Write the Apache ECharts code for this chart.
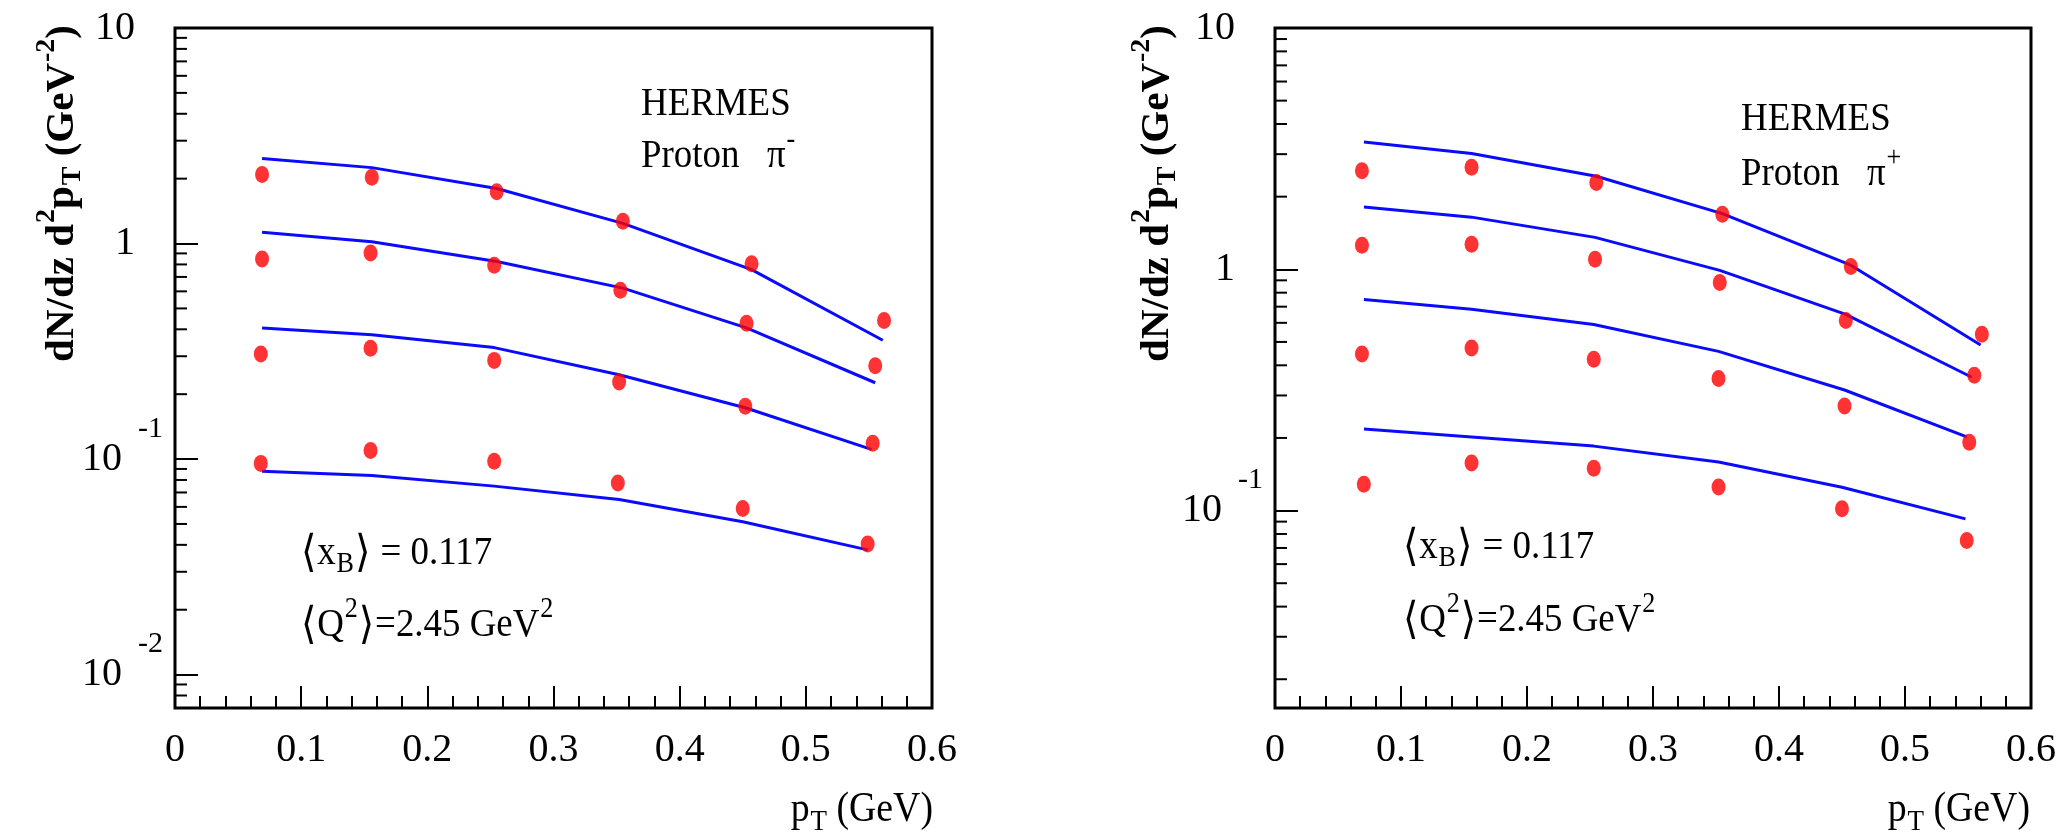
<!DOCTYPE html>
<html>
<head>
<meta charset="utf-8">
<script src="https://cdn.jsdelivr.net/npm/echarts@6/dist/echarts.min.js"></script>
<style>
  html, body { margin: 0; padding: 0; background: #fff; }
  #chart { width: 2069px; height: 835px; }
</style>
</head>
<body>
<div id="chart"></div>
<script>
// ---- HERMES proton target, <x_B> = 0.117, <Q^2> = 2.45 GeV^2 ----
// pi- : measured points (pT in GeV, dN/dz d2pT in GeV^-2), four z bins
const minusPointX = [
  [0.069, 0.156, 0.255, 0.355, 0.457, 0.562],
  [0.069, 0.155, 0.253, 0.353, 0.453, 0.555],
  [0.068, 0.155, 0.253, 0.352, 0.452, 0.553],
  [0.068, 0.155, 0.253, 0.351, 0.450, 0.549]
];
const minusPointY = [
  [2.09, 2.03, 1.74, 1.27, 0.806, 0.44],
  [0.848, 0.903, 0.793, 0.607, 0.427, 0.271],
  [0.307, 0.327, 0.287, 0.228, 0.176, 0.1185],
  [0.0955, 0.1095, 0.0977, 0.0775, 0.059, 0.0404]
];
// pi- : model curves
const minusCurveX = [
  [0.069, 0.156, 0.255, 0.355, 0.457, 0.561],
  [0.069, 0.156, 0.255, 0.355, 0.453, 0.555],
  [0.069, 0.156, 0.253, 0.352, 0.452, 0.552],
  [0.069, 0.156, 0.253, 0.352, 0.450, 0.549]
];
const minusCurveY = [
  [2.48, 2.25, 1.80, 1.24, 0.757, 0.356],
  [1.127, 1.02, 0.825, 0.621, 0.406, 0.226],
  [0.406, 0.377, 0.329, 0.246, 0.173, 0.111],
  [0.0878, 0.0839, 0.0749, 0.065, 0.0512, 0.0379]
];
// pi+ : measured points
const plusPointX = [
  [0.069, 0.156, 0.255, 0.355, 0.457, 0.561],
  [0.069, 0.156, 0.254, 0.353, 0.453, 0.555],
  [0.069, 0.156, 0.253, 0.352, 0.452, 0.551],
  [0.0705, 0.156, 0.253, 0.352, 0.450, 0.549]
];
const plusPointY = [
  [2.56, 2.65, 2.29, 1.69, 1.026, 0.538],
  [1.257, 1.27, 1.10, 0.881, 0.614, 0.364],
  [0.446, 0.472, 0.424, 0.353, 0.271, 0.192],
  [0.1285, 0.1575, 0.1497, 0.1253, 0.1018, 0.0751]
];
// pi+ : model curves
const plusCurveX = [
  [0.0706, 0.156, 0.255, 0.355, 0.457, 0.560],
  [0.0706, 0.156, 0.254, 0.353, 0.453, 0.553],
  [0.0706, 0.156, 0.253, 0.352, 0.452, 0.549],
  [0.0706, 0.156, 0.253, 0.352, 0.450, 0.548]
];
const plusCurveY = [
  [3.37, 3.02, 2.43, 1.70, 1.04, 0.486],
  [1.81, 1.645, 1.356, 0.99, 0.65, 0.357],
  [0.749, 0.683, 0.59, 0.457, 0.316, 0.202],
  [0.218, 0.202, 0.185, 0.159, 0.125, 0.0924]
];

// axis ranges and tick labels
const xTickLabels = ['0', '0.1', '0.2', '0.3', '0.4', '0.5', '0.6'];
const yRangeMinus = [0.007, 10];
const yRangePlus = [0.0152, 10];
const decadeLabels = { '1': '{p|10}', '0': '{p|1}', '-1': '{b|10}{s|-1}', '-2': '{b|10}{s|-2}' };

const SERIF = 'Liberation Serif';
const BRACKET = 'DejaVu Sans';
const RED = '#ff0000';
const BLUE = '#0a0aff';

const grids = [
  { left: 175, top: 28, width: 757, height: 680 },
  { left: 1275, top: 28, width: 756, height: 680 }
];

function pairs(xs, ys) { return xs.map((x, i) => [x, ys[i]]); }

// minor log ticks at 2..9 x 10^k inside the y range
function minorLogTicks(range) {
  const out = [];
  for (let k = -3; k <= 1; k++) {
    for (let m = 2; m <= 9; m++) {
      const v = m * Math.pow(10, k);
      if (v > range[0] && v < range[1]) out.push([0, v]);
    }
  }
  return out;
}

function xAxisFor(i) {
  return {
    type: 'value', gridIndex: i, min: 0, max: 0.6, interval: 0.1,
    axisLine: { show: false },
    splitLine: { show: false },
    axisTick: { show: true, inside: true, length: 22, lineStyle: { color: '#000', width: 2 } },
    minorTick: { show: true, splitNumber: 5, length: 12, lineStyle: { color: '#000', width: 2 } },
    axisLabel: {
      margin: 22, color: '#000', fontFamily: SERIF, fontSize: 40,
      formatter: v => xTickLabels[Math.round(v * 10)] ?? ''
    }
  };
}

function yAxisFor(i, range) {
  return {
    type: 'log', logBase: 10, gridIndex: i, min: range[0], max: range[1],
    axisLine: { show: false },
    splitLine: { show: false },
    axisTick: { show: true, inside: true, length: 23, lineStyle: { color: '#000', width: 2 } },
    axisLabel: {
      margin: 12, color: '#000', fontFamily: SERIF, fontSize: 40,
      formatter: v => {
        const e = Math.log10(v);
        const r = Math.round(e);
        if (Math.abs(e - r) > 1e-6) return '';
        return decadeLabels[String(r)] ?? '';
      },
      rich: {
        p: { fontFamily: SERIF, fontSize: 40, color: '#000', padding: [0, 28, 0, 0] },
        b: { fontFamily: SERIF, fontSize: 40, color: '#000' },
        s: { fontFamily: SERIF, fontSize: 30, color: '#000', padding: [0, 0, 60, 16] }
      }
    }
  };
}

function panelSeries(i, px, py, cx, cy, range) {
  const list = [];
  list.push({
    type: 'custom', xAxisIndex: i, yAxisIndex: i, silent: true, z: 1,
    data: minorLogTicks(range),
    renderItem: (params, api) => {
      const p = api.coord([0, api.value(1)]);
      return {
        type: 'line',
        shape: { x1: p[0], y1: p[1], x2: p[0] + 12, y2: p[1] },
        style: { stroke: '#000', lineWidth: 2 }
      };
    }
  });
  cx.forEach((xs, k) => {
    list.push({
      type: 'line', xAxisIndex: i, yAxisIndex: i, data: pairs(xs, cy[k]),
      symbol: 'none', smooth: false, z: 3, silent: true,
      lineStyle: { color: BLUE, width: 3 }
    });
  });
  px.forEach((xs, k) => {
    list.push({
      type: 'scatter', xAxisIndex: i, yAxisIndex: i, data: pairs(xs, py[k]),
      symbol: 'circle', symbolSize: [14, 17], z: 4, silent: true,
      itemStyle: { color: RED }
    });
  });
  return list;
}

const textRich = {
  t: { fontFamily: SERIF, fontSize: 41, fill: '#000' },
  br: { fontFamily: BRACKET, fontSize: 44, fill: '#000', padding: [4, 1, 0, 1] },
  sp: { fontFamily: SERIF, fontSize: 29, fill: '#000', padding: [0, 0, 32, 1] },
  sb: { fontFamily: SERIF, fontSize: 29, fill: '#000', padding: [22, 0, 0, 1] }
};
const titleRich = {
  t: { fontFamily: SERIF, fontSize: 41, fontWeight: 'bold', fill: '#000' },
  sp: { fontFamily: SERIF, fontSize: 28, fontWeight: 'bold', fill: '#000', padding: [0, 0, 30, 1] },
  sb: { fontFamily: SERIF, fontSize: 28, fontWeight: 'bold', fill: '#000', padding: [22, 0, 0, 1] }
};
const axisNameRich = {
  t: { fontFamily: SERIF, fontSize: 42, fill: '#000' },
  sb: { fontFamily: SERIF, fontSize: 30, fill: '#000', padding: [24, 0, 0, 1] }
};

// scaleX narrows the serif face to the condensed look of the plot lettering
function txt(x, y, text, rich, align, rotation, sx) {
  return {
    type: 'text', x, y, rotation: rotation || 0, scaleX: sx || 1, silent: true, z: 10,
    style: { text, rich, align: align || 'left', verticalAlign: 'middle', fill: '#000', fontFamily: SERIF }
  };
}

const yTitle = '{t|dN/dz d}{sp|2}{t|p}{sb|T}{t| (GeV}{sp|-2}{t|)}';
const xTitle = '{t|p}{sb|T}{t| (GeV)}';
const xbText = '{br|⟨}{t|x}{sb|B}{br|⟩}{t| = 0.117}';
const q2Text = '{br|⟨}{t|Q}{sp|2}{br|⟩}{t|=2.45 GeV}{sp|2}';

const option = {
  backgroundColor: '#fff',
  animation: false,
  grid: grids.map(g => Object.assign({
    show: true, borderColor: '#000', borderWidth: 3, backgroundColor: 'transparent',
    containLabel: false, outerBoundsMode: 'none'
  }, g)),
  xAxis: [xAxisFor(0), xAxisFor(1)],
  yAxis: [yAxisFor(0, yRangeMinus), yAxisFor(1, yRangePlus)],
  series: [
    ...panelSeries(0, minusPointX, minusPointY, minusCurveX, minusCurveY, yRangeMinus),
    ...panelSeries(1, plusPointX, plusPointY, plusCurveX, plusCurveY, yRangePlus)
  ],
  graphic: [
    txt(641, 104, '{t|HERMES}', textRich, 'left', 0, 0.9),
    txt(641, 156, '{t|Proton   π}{sp|-}', textRich, 'left', 0, 0.9),
    txt(300, 553, xbText, textRich, 'left', 0, 0.9),
    txt(300, 625, q2Text, textRich, 'left', 0, 0.9),
    txt(1741, 119, '{t|HERMES}', textRich, 'left', 0, 0.9),
    txt(1741, 174, '{t|Proton   π}{sp|+}', textRich, 'left', 0, 0.9),
    txt(1402, 547, xbText, textRich, 'left', 0, 0.9),
    txt(1402, 620, q2Text, textRich, 'left', 0, 0.9),
    txt(62, 25, yTitle, titleRich, 'right', Math.PI / 2),
    txt(1157, 25, yTitle, titleRich, 'right', Math.PI / 2),
    txt(933, 810, xTitle, axisNameRich, 'right', 0, 0.9),
    txt(2030, 810, xTitle, axisNameRich, 'right', 0, 0.9)
  ]
};

const chart = echarts.init(document.getElementById('chart'));
chart.setOption(option);
</script>
</body>
</html>
